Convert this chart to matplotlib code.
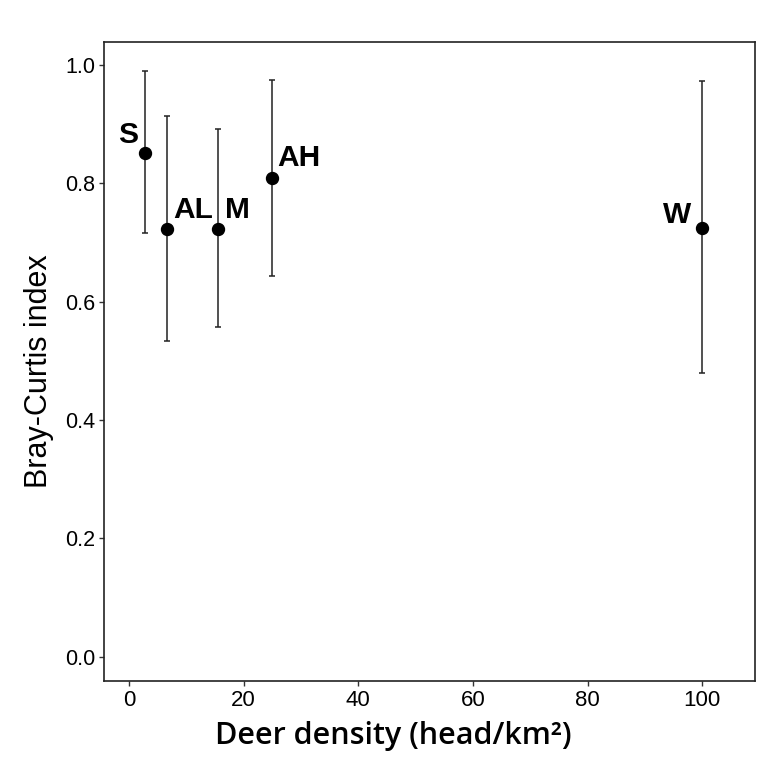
import matplotlib
matplotlib.use("Agg")
import matplotlib.pyplot as plt

sites = ["S", "AL", "M", "AH", "W"]
density = [2.8, 6.7, 15.6, 24.9, 100.0]
bc_mean = [0.851, 0.723, 0.723, 0.809, 0.725]
bc_upper = [0.989, 0.913, 0.892, 0.975, 0.973]
bc_lower = [0.715, 0.533, 0.557, 0.643, 0.479]
x_ticks = [0, 20, 40, 60, 80, 100]
y_ticks = [0.0, 0.2, 0.4, 0.6, 0.8, 1.0]

# label offsets in points (dx, dy) - text centred horizontally, baseline at dy
label_pos = {"S": (-12.2, 7.5), "AL": (18.5, 7.5), "M": (13.9, 7.5),
             "AH": (19.7, 8.4), "W": (-18.5, 3.3)}

fig = plt.figure(figsize=(7.65, 7.58), dpi=100)
ax = fig.add_axes([0.136, 0.1016, 0.851, 0.8434])

yerr = [[m - l for m, l in zip(bc_mean, bc_lower)],
        [u - m for m, u in zip(bc_mean, bc_upper)]]
ax.errorbar(density, bc_mean, yerr=yerr, fmt="o", color="black",
            ecolor="#222222", elinewidth=1.1, capsize=2.2, capthick=1.1,
            markersize=8.6, zorder=3)

for s, x, y in zip(sites, density, bc_mean):
    dx, dy = label_pos[s]
    ax.annotate(s, (x, y), xytext=(dx, dy), textcoords="offset points",
                ha="center", va="baseline", fontsize=21.5, fontweight="bold",
                family=["Liberation Sans", "DejaVu Sans"])

ax.set_xlim(-4.36, 109.2)
ax.set_ylim(-0.041, 1.039)
ax.set_xticks(x_ticks)
ax.set_xticklabels([str(t) for t in x_ticks])
ax.set_yticks(y_ticks)
ax.set_yticklabels([f"{t:.1f}" for t in y_ticks])

for lab in ax.get_xticklabels():
    lab.set_family(["Liberation Sans", "DejaVu Sans"])
    lab.set_fontsize(16)
for lab in ax.get_yticklabels():
    lab.set_family(["Liberation Sans", "DejaVu Sans"])
    lab.set_fontsize(15.5)

ax.tick_params(direction="out", length=3.5, width=1.0, color="#333333", pad=3,
               labelcolor="black")
for sp in ax.spines.values():
    sp.set_linewidth(1.2)
    sp.set_color("#222222")

ax.set_ylabel("Bray-Curtis index", fontsize=22,
              family=["Liberation Sans", "DejaVu Sans"], labelpad=8)
ax.yaxis.label.set_y(0.485)
ax.set_xlabel("Deer density (head/km²)", fontsize=22, fontweight="semibold",
              family=["Open Sans", "DejaVu Sans"], labelpad=5)
ax.xaxis.set_label_coords(0.444, -0.062)

fig.savefig("out.png", dpi=100)
